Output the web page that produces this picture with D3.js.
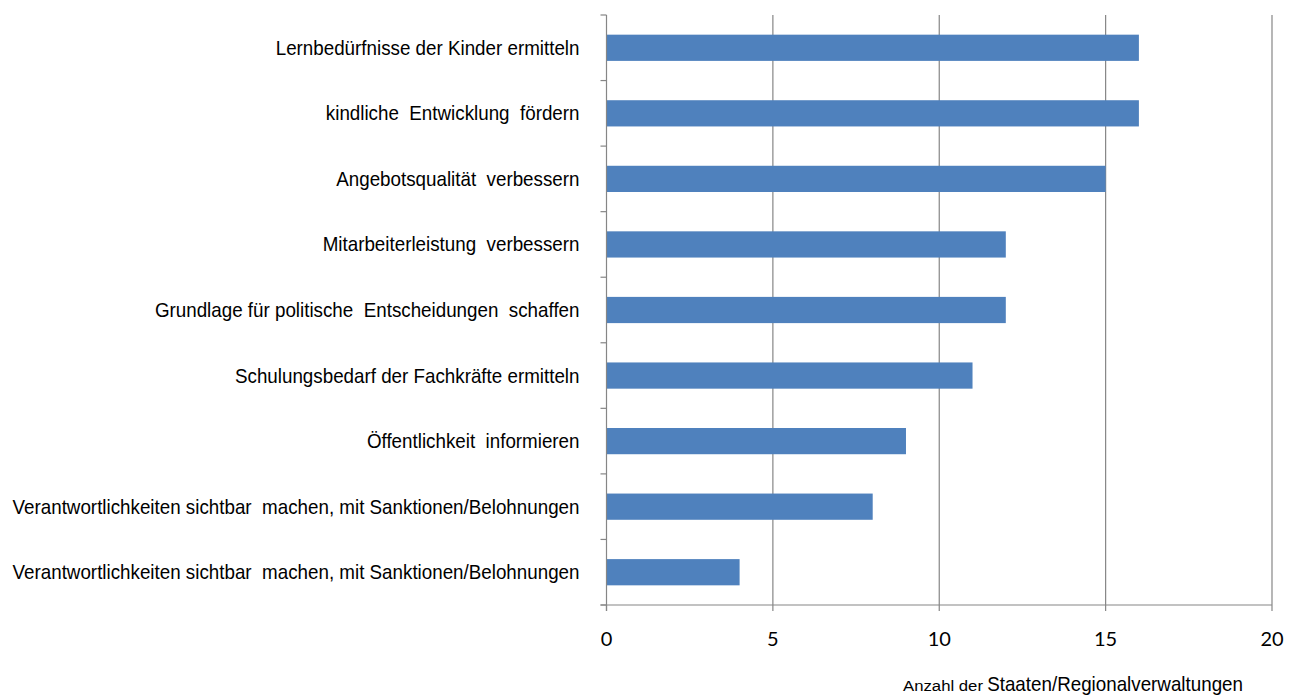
<!DOCTYPE html>
<html>
<head>
<meta charset="utf-8">
<script src="https://cdn.jsdelivr.net/npm/d3@7"></script>
<style>
  html, body { margin: 0; padding: 0; background: #fff; }
  svg { display: block; }
  .cat { font-family: "Liberation Sans", Arial, sans-serif; font-size: 20px; fill: #000; }
  .tick-label { font-family: Lato, "Open Sans", sans-serif; font-size: 20px; fill: #000; }
</style>
</head>
<body>
<svg id="chart" width="1298" height="698"></svg>
<script>
// Goals of the monitoring, top to bottom
const categories = [
  "Lernbedürfnisse der Kinder ermitteln",
  "kindliche  Entwicklung  fördern",
  "Angebotsqualität  verbessern",
  "Mitarbeiterleistung  verbessern",
  "Grundlage für politische  Entscheidungen  schaffen",
  "Schulungsbedarf der Fachkräfte ermitteln",
  "Öffentlichkeit  informieren",
  "Verantwortlichkeiten sichtbar  machen, mit Sanktionen/Belohnungen",
  "Verantwortlichkeiten sichtbar  machen, mit Sanktionen/Belohnungen"
];
// Number of states / regional administrations per goal
const values = [16, 16, 15, 12, 12, 11, 9, 8, 4];
const xTicks = [0, 5, 10, 15, 20];

const svg = d3.select("#chart");
const plotLeft = 606.5, plotRight = 1272, plotTop = 15, plotBottom = 605;
const narrow = 0.94; // horizontal squeeze for the condensed label face

const x = d3.scaleLinear().domain([0, 20]).range([plotLeft, plotRight]);
const y = d3.scaleBand().domain(d3.range(categories.length)).range([plotTop, plotBottom]).paddingInner(0.6).paddingOuter(0.3);
const band = (plotBottom - plotTop) / categories.length;

const grid = "#868686";

// vertical gridlines
svg.append("g").selectAll("line").data(xTicks.slice(1)).join("line")
  .attr("x1", d => x(d)).attr("x2", d => x(d))
  .attr("y1", plotTop).attr("y2", plotBottom)
  .attr("stroke", grid).attr("stroke-width", 1.2);

// bars
svg.append("g").selectAll("rect").data(values).join("rect")
  .attr("x", x(0))
  .attr("y", (d, i) => y(i))
  .attr("width", d => x(d) - x(0))
  .attr("height", y.bandwidth())
  .attr("fill", "#4F81BD");

// y axis line and category separators
svg.append("line").attr("x1", plotLeft).attr("x2", plotLeft).attr("y1", plotTop).attr("y2", plotBottom + 6)
  .attr("stroke", grid).attr("stroke-width", 1.2);
svg.append("g").selectAll("line").data(d3.range(categories.length + 1)).join("line")
  .attr("x1", plotLeft - 6).attr("x2", plotLeft)
  .attr("y1", i => plotTop + i * band).attr("y2", i => plotTop + i * band)
  .attr("stroke", grid).attr("stroke-width", 1.2);

// x axis line and ticks
svg.append("line").attr("x1", plotLeft - 6).attr("x2", plotRight).attr("y1", plotBottom).attr("y2", plotBottom)
  .attr("stroke", grid).attr("stroke-width", 1.2);
svg.append("g").selectAll("line").data(xTicks).join("line")
  .attr("x1", d => x(d)).attr("x2", d => x(d))
  .attr("y1", plotBottom).attr("y2", plotBottom + 6)
  .attr("stroke", grid).attr("stroke-width", 1.2);

// tick labels
svg.append("g").selectAll("text").data(xTicks).join("text")
  .attr("class", "tick-label")
  .attr("x", d => x(d)).attr("y", 646)
  .attr("text-anchor", "middle")
  .text(d => d);

// category labels
svg.append("g").selectAll("text").data(categories).join("text")
  .attr("class", "cat")
  .attr("transform", (d, i) => `translate(${plotLeft - 27},${y(i) + y.bandwidth() / 2 + 7}) scale(${narrow},1)`)
  .attr("text-anchor", "end")
  .style("white-space", "pre")
  .text(d => d);

// axis title: small prefix followed by the larger main part
svg.append("text")
  .attr("x", 903).attr("y", 691)
  .attr("font-family", "'Liberation Sans', Arial, sans-serif")
  .attr("font-size", 15.5)
  .attr("textLength", 80)
  .attr("lengthAdjust", "spacingAndGlyphs")
  .text("Anzahl der");
svg.append("text")
  .attr("transform", `translate(1243,691) scale(${narrow},1)`)
  .attr("text-anchor", "end")
  .attr("font-family", "'Liberation Sans', Arial, sans-serif")
  .attr("font-size", 20)
  .text("Staaten/Regionalverwaltungen");
</script>
</body>
</html>
